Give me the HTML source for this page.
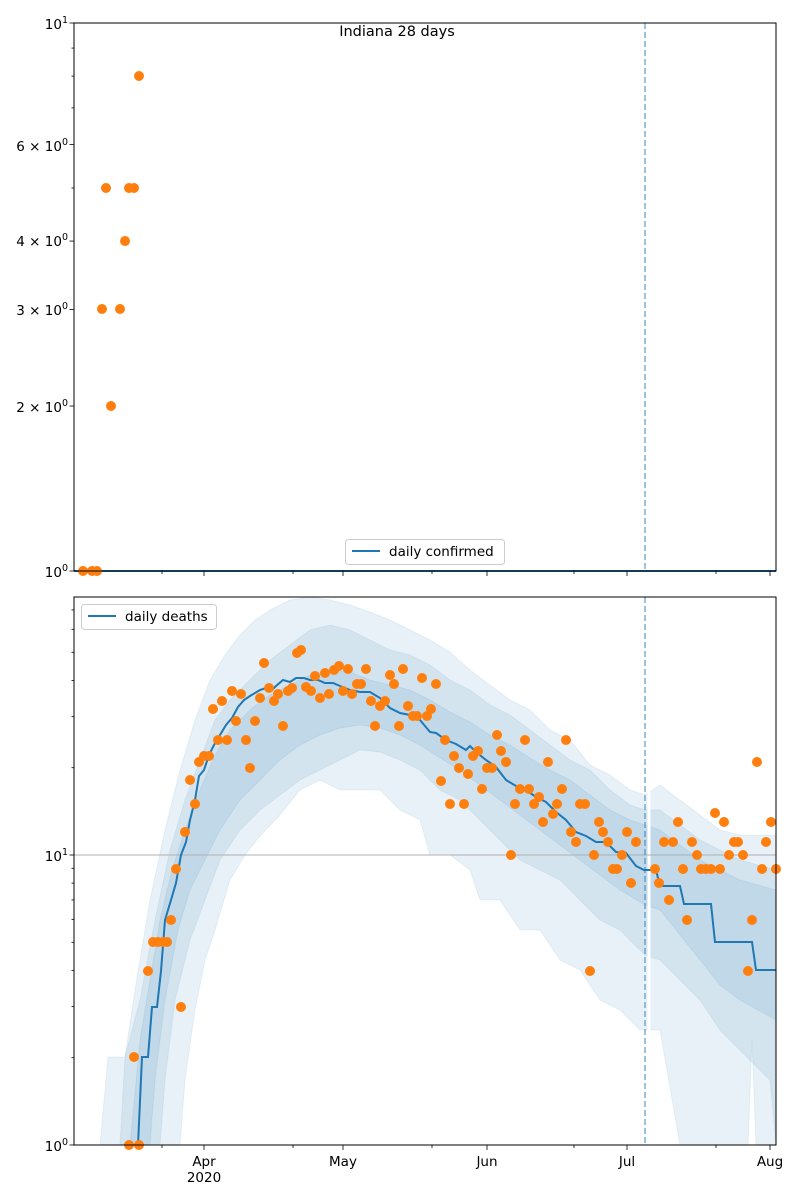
<!DOCTYPE html>
<html><head><meta charset="utf-8"><style>
body{margin:0;background:#fff}
svg{display:block;font-family:"DejaVu Sans","Liberation Sans",sans-serif}
</style></head><body>
<svg id="s" width="800" height="1200" viewBox="0 0 800 1200" xmlns="http://www.w3.org/2000/svg">
<rect width="800" height="1200" fill="#fff"/>
<g id="bands"></g>
<line x1="74" y1="855" x2="776" y2="855" stroke="#b0b0b0" stroke-width="1"/>
<g id="lines"></g>
<g id="dots"></g>
<line x1="645" y1="23" x2="645" y2="571" stroke="#1f77b4" stroke-opacity="0.55" stroke-width="1.6" stroke-dasharray="6,3"/>
<line x1="645" y1="597" x2="645" y2="1145" stroke="#1f77b4" stroke-opacity="0.55" stroke-width="1.6" stroke-dasharray="6,3"/>
<rect x="74" y="23" width="702" height="548" fill="none" stroke="#000" stroke-width="1"/>
<rect x="74" y="597" width="702" height="548" fill="none" stroke="#000" stroke-width="1"/>
<g id="ticks" stroke="#000" stroke-width="0.8"></g>
<text x="397" y="36" font-size="14.5" text-anchor="middle">Indiana 28 days</text>
<g font-size="13.5" text-anchor="end">
<text x="68" y="29">10<tspan font-size="9.5" dy="-6">1</tspan></text>
<text x="68" y="151">6 × 10<tspan font-size="9.5" dy="-6">0</tspan></text>
<text x="68" y="246">4 × 10<tspan font-size="9.5" dy="-6">0</tspan></text>
<text x="68" y="315">3 × 10<tspan font-size="9.5" dy="-6">0</tspan></text>
<text x="68" y="412">2 × 10<tspan font-size="9.5" dy="-6">0</tspan></text>
<text x="68" y="577">10<tspan font-size="9.5" dy="-6">0</tspan></text>
<text x="68" y="861">10<tspan font-size="9.5" dy="-6">1</tspan></text>
<text x="68" y="1151">10<tspan font-size="9.5" dy="-6">0</tspan></text>
</g>
<g font-size="13.5" text-anchor="middle">
<text x="204" y="1166">Apr</text><text x="204" y="1182">2020</text>
<text x="343" y="1166">May</text>
<text x="487" y="1166">Jun</text>
<text x="627" y="1166">Jul</text>
<text x="770" y="1166">Aug</text>
</g>
<rect x="345.5" y="539.5" width="159" height="25" rx="3" fill="#fff" fill-opacity="0.8" stroke="#ccc"/>
<line x1="352" y1="551" x2="380" y2="551" stroke="#1f77b4" stroke-width="2"/>
<text x="389" y="556" font-size="13.5">daily confirmed</text>
<rect x="81.5" y="604.5" width="135" height="25" rx="3" fill="#fff" fill-opacity="0.8" stroke="#ccc"/>
<line x1="88" y1="616" x2="116" y2="616" stroke="#1f77b4" stroke-width="2"/>
<text x="125" y="621" font-size="13.5">daily deaths</text>
</svg>
<script>
var NS="http://www.w3.org/2000/svg";
function el(p,t,a){var e=document.createElementNS(NS,t);for(var k in a)e.setAttribute(k,a[k]);document.getElementById(p).appendChild(e);return e;}
function pts(a){return a.map(function(p){return p[0]+","+p[1]}).join(" ");}
var outU=[[100,1145],[108,1057],[125,1057],[135,990],[150,900],[165,830],[180,770],[195,720],[210,680],[225,655],[240,635],[255,620],[270,610],[290,600],[310,597],[330,600],[350,605],[370,612],[390,620],[410,630],[430,640],[450,652],[470,670],[490,685],[510,700],[530,710],[550,730],[570,740],[590,765],[610,775],[630,790],[645,795],[660,785],[680,800],[700,815],[720,830],[740,835],[776,835]];
var outL=[[180,1145],[185,1080],[195,1010],[205,960],[215,930],[230,880],[245,855],[260,836],[280,815],[300,790],[320,780],[340,790],[360,790],[380,790],[400,810],[420,820],[430,855],[450,855],[470,870],[480,900],[500,900],[520,930],[540,930],[560,960],[580,970],[600,1000],[620,1010],[640,1030],[660,1030],[680,1145],[748,1145],[752,1040],[756,1145],[776,1145]];
var midU=[[120,1145],[125,1057],[140,1000],[155,920],[170,850],[185,800],[200,760],[215,720],[230,700],[250,680],[270,660],[290,645],[310,630],[330,625],[350,630],[370,640],[390,650],[410,655],[430,665],[450,680],[470,690],[490,705],[510,715],[530,730],[550,745],[570,760],[590,770],[610,790],[630,805],[645,810],[660,810],[680,825],[700,840],[720,850],[740,860],[776,870]];
var midL=[[160,1145],[165,1080],[175,1000],[190,940],[205,900],[220,860],[240,830],[260,810],[280,795],[300,780],[320,770],[340,760],[360,750],[380,752],[400,760],[420,770],[440,790],[460,800],[480,820],[500,840],[520,860],[540,870],[560,880],[580,900],[600,920],[620,930],[645,955],[660,960],[680,980],[700,1000],[720,1030],[740,1050],[770,1080],[776,1145]];
var inU=[[130,1145],[140,1040],[150,980],[160,920],[172,870],[185,830],[200,790],[215,755],[230,730],[250,710],[270,695],[290,685],[310,675],[330,670],[350,672],[370,680],[390,685],[410,690],[430,700],[450,712],[470,722],[490,735],[510,745],[530,758],[550,770],[570,780],[590,795],[610,810],[630,820],[645,825],[660,830],[680,845],[700,860],[720,870],[740,880],[776,890]];
var inL=[[150,1145],[155,1080],[165,1000],[178,930],[190,890],[205,860],[220,830],[240,800],[260,780],[280,760],[300,745],[320,735],[340,728],[360,725],[380,728],[400,735],[420,745],[440,758],[460,770],[480,785],[500,800],[520,815],[540,830],[560,845],[580,860],[600,875],[620,890],[645,905],[660,910],[680,935],[700,960],[720,985],[740,1000],[776,1020]];
[[outU,outL],[midU,midL],[inU,inL]].forEach(function(b){
 el("bands","polygon",{points:pts(b[0].concat(b[1].slice().reverse())),fill:"#1f77b4","fill-opacity":"0.1",stroke:"#1f77b4","stroke-opacity":"0.08"});
});
el("bands","rect",{x:647.5,y:597,width:3,height:548,fill:"#fff"});
var med=[[138,1145],[142,1057],[148,1057],[152,1007],[157,1007],[161,971],[165,920],[171,900],[176,883],[181,855],[186,842],[190,820],[195,800],[199,776],[204,770],[209,755],[214,745],[220,735],[226,725],[232,718],[238,707],[244,700],[250,696],[260,690],[266,688],[272,690],[276,686],[283,680],[290,682],[296,678],[304,678],[310,680],[318,680],[325,683],[333,683],[340,686],[350,690],[360,692],[370,692],[380,698],[390,708],[400,713],[410,715],[420,720],[430,732],[436,733],[446,740],[456,744],[466,750],[470,746],[476,752],[486,760],[496,767],[506,780],[516,786],[526,790],[536,797],[546,802],[556,812],[566,820],[576,832],[586,836],[596,842],[606,842],[616,852],[626,853],[636,866],[644,870],[656,870],[660,886],[680,886],[684,904],[711,904],[715,942],[752,942],[756,970],[776,970]];
el("lines","polyline",{points:pts(med),fill:"none",stroke:"#1f77b4","stroke-width":2});
el("lines","line",{x1:74,y1:571,x2:776,y2:571,stroke:"#1f77b4","stroke-width":2});
var d=[[83,571],[92,571],[97,571],[102,309],[106,188],[111,406],[120,309],[125,241],[129,188],[134,188],[139,76],
[129,1145],[139,1145],[134,1057],[148,971],[153,942],[158,942],[163,942],[167,942],[171,920],[176,869],[181,1007],[185,832],[190,780],[195,804],[199,762],[204,756],[209,756],[213,709],[218,740],[222,701],[227,740],[232,691],[236,721],[241,694],[246,740],[250,768],[255,721],[260,698],[264,663],[269,688],[274,701],[278,694],[283,726],[288,691],[292,688],[297,653],[301,650],[306,687],[311,691],[315,676],[320,698],[325,673],[329,694],[334,670],[339,666],[343,691],[348,669],[352,694],[357,684],[361,684],[366,669],[371,701],[375,726],[380,706],[385,701],[390,675],[394,684],[399,726],[403,669],[408,706],[413,716],[417,716],[422,678],[427,716],[431,709],[436,684],[441,781],[445,740],[450,804],[454,756],[459,768],[464,804],[468,774],[473,756],[478,751],[482,789],[487,768],[492,768],[497,735],[501,751],[506,762],[511,855],[515,804],[520,789],[525,740],[529,789],[534,804],[539,797],[543,822],[548,762],[553,814],[557,804],[562,789],[566,740],[571,832],[576,842],[580,804],[585,804],[590,971],[594,855],[599,822],[603,832],[608,842],[613,869],[617,869],[622,855],[627,832],[631,883],[636,842],[655,869],[659,883],[664,842],[669,900],[673,842],[678,822],[683,869],[687,920],[692,842],[697,855],[701,869],[706,869],[711,869],[715,813],[720,869],[724,822],[729,855],[734,842],[738,842],[743,855],[748,971],[752,920],[757,762],[762,869],[766,842],[771,822],[776,869]];
d.forEach(function(p){el("dots","circle",{cx:p[0],cy:p[1],r:5,fill:"#ff7f0e"});});
function t(x1,y1,x2,y2){el("ticks","line",{x1:x1,y1:y1,x2:x2,y2:y2});}
[1,2,3,4,6,10].forEach(function(v){var y=571-548*Math.log10(v);t(74,y,69.5,y);});
[5,7,8,9].forEach(function(v){var y=571-548*Math.log10(v);t(74,y,71.5,y);});
[1,10].forEach(function(v){var y=1145-290*Math.log10(v);t(74,y,69.5,y);});
[2,3,4,5,6,7,8,9,20,30,40,50,60,70].forEach(function(v){var y=1145-290*Math.log10(v);t(74,y,71.5,y);});
[204,343,487,627,770].forEach(function(x){t(x,571,x,576);t(x,1145,x,1150);});
[162,293,432,574,716].forEach(function(x){t(x,571,x,574);t(x,1145,x,1148);});
</script>
</body></html>
